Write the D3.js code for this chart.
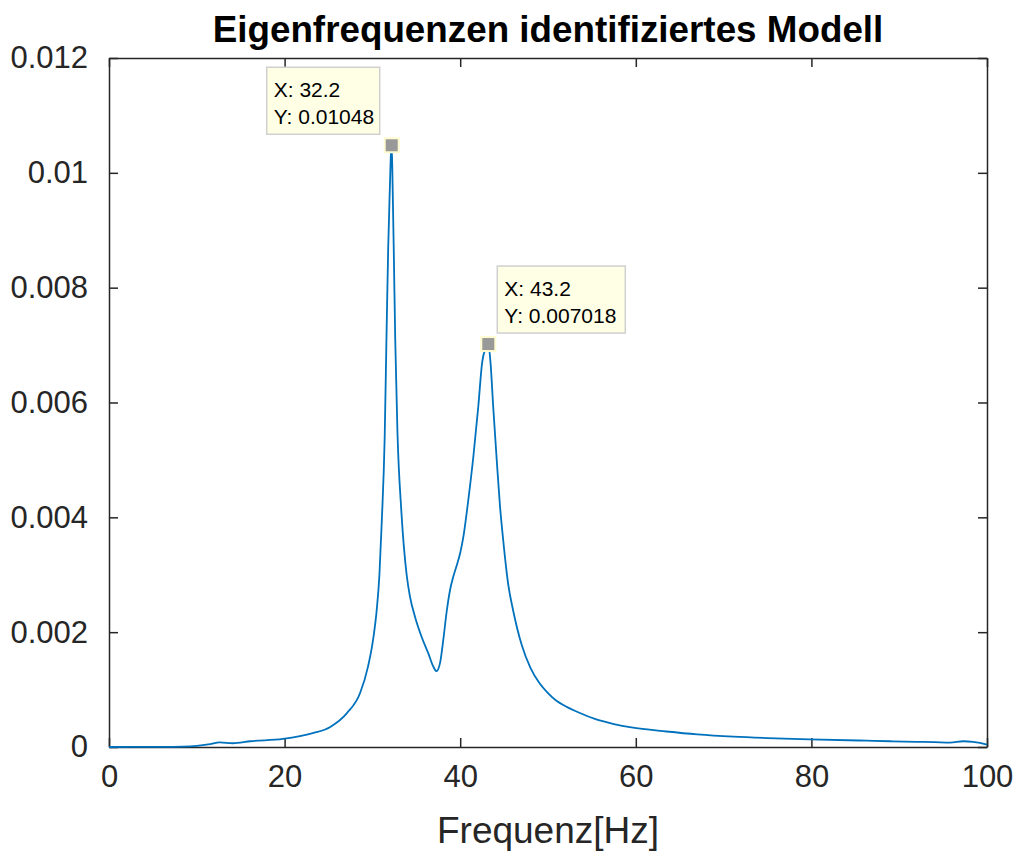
<!DOCTYPE html>
<html>
<head>
<meta charset="utf-8">
<script src="https://cdn.jsdelivr.net/npm/d3@7"></script>
<style>
  body { margin: 0; background: #fff; }
  text { font-family: Arial, "Liberation Sans", Helvetica, sans-serif; }
</style>
</head>
<body>
<div id="container"></div>
<script>
/* CONSTANTS AND GLOBALS */
const width = 1016,
  height = 851,
  margin = { top: 58, right: 29, bottom: 104, left: 109 };

const titleText = 'Eigenfrequenzen identifiziertes Modell';
const xLabel = 'Frequenz[Hz]';

// DATA
const freq = [0, 5, 8.4, 10, 11.5, 12.6, 14.1, 16.1, 19.8, 23.2, 25.2, 27.1, 28.6, 29.5,
  30.07, 30.5, 30.8, 31.06, 31.4, 31.6, 31.8, 32.0, 32.1, 32.2, 32.3, 32.45, 32.6, 32.85,
  33.3, 33.9, 34.28, 34.85, 35.6, 36.37, 36.94, 37.3, 37.7, 38.07, 38.46, 38.84, 39.2,
  39.6, 40.0, 40.35, 40.92, 41.5, 42.06, 42.5, 42.9, 43.2, 43.45, 43.77, 44.16, 44.53,
  44.9, 45.5, 46, 47, 48, 49, 50, 51, 52, 53.5, 55.5, 57.5, 59.5, 63.5, 67, 71.1, 75,
  79.8, 86.3, 89, 92, 94, 95.8, 97.3, 98.4, 99.2, 100];
const amp = [0, 0.000003, 0.000008, 0.00002, 0.00005, 0.00008, 0.000065, 0.0001, 0.00014,
  0.00024, 0.00035, 0.00059, 0.00094, 0.0014, 0.00186, 0.0024, 0.003, 0.0039, 0.0054,
  0.0071, 0.0087, 0.0098, 0.0103, 0.01048, 0.0098, 0.0085, 0.0071, 0.0055, 0.0041, 0.003,
  0.00262, 0.00227, 0.00192, 0.00163, 0.0014, 0.00132, 0.00146, 0.00186, 0.00236, 0.00273,
  0.00296, 0.00316, 0.00338, 0.00365, 0.0043, 0.00506, 0.00593, 0.0067, 0.00695, 0.00702,
  0.0067, 0.0059, 0.005, 0.0042, 0.0036, 0.0028, 0.0024, 0.00178, 0.00138, 0.00112,
  0.00094, 0.0008, 0.00071, 0.0006, 0.00048, 0.0004, 0.00034, 0.00027, 0.00022, 0.00018,
  0.000155, 0.000134, 0.00011, 0.0001, 0.00009, 0.000085, 0.000075, 0.0001, 0.00009,
  0.00007, 0.00004];

const xTicks = [0, 20, 40, 60, 80, 100];
const yTicks = [0, 0.002, 0.004, 0.006, 0.008, 0.01, 0.012];
const yTickLabels = ['0', '0.002', '0.004', '0.006', '0.008', '0.01', '0.012'];

// data tips
const tips = [
  { x: 32.2, y: 0.01048, label: ['X: 32.2', 'Y: 0.01048'], side: 'left' },
  { x: 43.2, y: 0.007018, label: ['X: 43.2', 'Y: 0.007018'], side: 'right' }
];

const data = freq.map((f, i) => ({ f: f, a: amp[i] }));

// SCALES
const xScale = d3.scaleLinear()
  .domain([0, 100])
  .range([margin.left, width - margin.right]);

const yScale = d3.scaleLinear()
  .domain([0, 0.012])
  .range([height - margin.bottom, margin.top]);

// CREATE SVG ELEMENT
const svg = d3.select('#container')
  .append('svg')
  .attr('width', width)
  .attr('height', height);

const axisColor = '#262626';

// BUILD AND CALL AXES (ticks inward, MATLAB box style)
const tickLen = 9;
const xAxis = d3.axisBottom(xScale).tickValues(xTicks).tickSizeInner(-tickLen).tickSizeOuter(0).tickPadding(18);
const xAxisTop = d3.axisTop(xScale).tickValues(xTicks).tickSizeInner(-tickLen).tickSizeOuter(0).tickFormat('');
const yAxis = d3.axisLeft(yScale).tickValues(yTicks).tickSizeInner(-tickLen).tickSizeOuter(0).tickPadding(21)
  .tickFormat((d, i) => yTickLabels[i]);
const yAxisRight = d3.axisRight(yScale).tickValues(yTicks).tickSizeInner(-tickLen).tickSizeOuter(0).tickFormat('');

function style(g) {
  g.select('.domain').attr('stroke', axisColor).attr('stroke-width', 1.5);
  g.selectAll('.tick line').attr('stroke', axisColor).attr('stroke-width', 1.5);
  g.selectAll('.tick text').attr('fill', axisColor).style('font-size', '31px');
}

svg.append('g')
  .attr('transform', `translate(0, ${height - margin.bottom})`)
  .call(xAxis).call(style);
svg.append('g')
  .attr('transform', `translate(0, ${margin.top})`)
  .call(xAxisTop).call(style);
svg.append('g')
  .attr('transform', `translate(${margin.left}, 0)`)
  .call(yAxis).call(style);
svg.append('g')
  .attr('transform', `translate(${width - margin.right}, 0)`)
  .call(yAxisRight).call(style);

// TITLE AND LABEL
svg.append('text')
  .attr('x', (margin.left + width - margin.right) / 2)
  .attr('y', 42)
  .attr('text-anchor', 'middle')
  .style('font-size', '36.8px')
  .style('font-weight', 'bold')
  .attr('fill', '#000')
  .text(titleText);

svg.append('text')
  .attr('x', (margin.left + width - margin.right) / 2)
  .attr('y', 843)
  .attr('text-anchor', 'middle')
  .style('font-size', '37px')
  .attr('fill', axisColor)
  .text(xLabel);

// LINE GENERATOR FUNCTION
const lineGen = d3.line()
  .x(d => xScale(d.f))
  .y(d => yScale(d.a))
  .curve(d3.curveMonotoneX);

// DRAW LINE
svg.append('path')
  .attr('d', lineGen(data))
  .attr('fill', 'none')
  .attr('stroke', '#0072BD')
  .attr('stroke-width', 1.8);

// DATA TIPS
tips.forEach(t => {
  const cx = xScale(t.x), cy = yScale(t.y);
  const boxW = t.side === 'left' ? 113 : 128, boxH = 67;
  const bx = t.side === 'left' ? cx - 4 - 8 - boxW : cx + 9;
  const by = cy - 11 - boxH;
  svg.append('rect')
    .attr('x', bx).attr('y', by)
    .attr('width', boxW).attr('height', boxH)
    .attr('fill', '#FFFFE6')
    .attr('stroke', '#D0D0D0')
    .attr('stroke-width', 1.5);
  t.label.forEach((s, i) => {
    svg.append('text')
      .attr('x', bx + 7)
      .attr('y', by + 30 + i * 26.5)
      .style('font-size', '21px')
      .attr('fill', '#000')
      .text(s);
  });
  svg.append('rect')
    .attr('x', cx - 7).attr('y', cy - 7)
    .attr('width', 14).attr('height', 14)
    .attr('fill', '#999999')
    .attr('stroke', '#FFFBD0')
    .attr('stroke-width', 2);
});
</script>
</body>
</html>
